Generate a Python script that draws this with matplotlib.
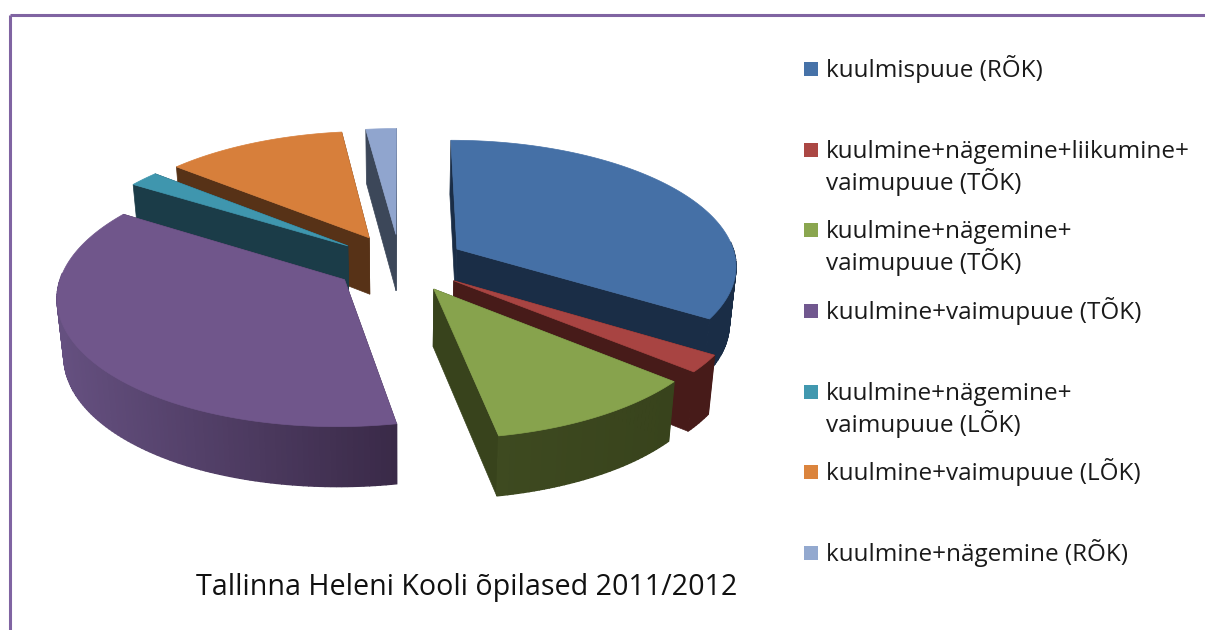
import matplotlib
matplotlib.use("Agg")
import matplotlib.pyplot as plt
import matplotlib.colors as mcolors
from matplotlib.patches import Rectangle
import numpy as np

labels = ["kuulmispuue (RÕK)",
          "kuulmine+nägemine+liikumine+\nvaimupuue (TÕK)",
          "kuulmine+nägemine+\nvaimupuue (TÕK)",
          "kuulmine+vaimupuue (TÕK)",
          "kuulmine+nägemine+\nvaimupuue (LÕK)",
          "kuulmine+vaimupuue (LÕK)",
          "kuulmine+nägemine (RÕK)"]
values = [34.0, 2.2, 10.8, 37.0, 2.0, 11.9, 2.0]
title = "Tallinna Heleni Kooli õpilased 2011/2012"

top_colors = ["#4570A6", "#A84442", "#87A34D", "#70568B", "#3F96AE", "#D77F3B", "#90A5CE"]
wall_colors = ["#1A2D46", "#471B19", "#38431C", "#3A2A48", "#1B3C48", "#573217", "#3C4759"]
rim_left = ["#1A2D46", "#471B19", "#3E4A20", "#655080", "#1B3C48", "#573217", "#3C4759"]
legend_colors = ["#4672A8", "#AB4744", "#8AA64F", "#71588F", "#4198AF", "#DB843D", "#93A9CF"]
legend_y = [69, 150, 230, 311, 392, 472, 553]

CX, CY = 400, 263
R, RY, P = 280, 125, 0.12
EXPLODE = 0.235
H_BACK, H_FRONT = 54, 60
BOTTOM_SCALE = 0.98
LINE_STEP = 32


def project(u, v):
    d = 1 - P * v
    x = CX + R * u / d
    y = CY + RY * v / d
    h = H_BACK + (H_FRONT - H_BACK) * np.clip((v + 1) / 2, 0, 1)
    xb = CX + (x - CX) * BOTTOM_SCALE
    return x, y, xb, y + h


fig = plt.figure(figsize=(12.05, 6.3), dpi=100)
ax = fig.add_axes([0, 0, 1, 1])
ax.set_xlim(0, 1205)
ax.set_ylim(630, 0)
ax.axis("off")

# frame
ax.plot([9.5, 9.5], [630, 14.5], color="#8064A2", lw=2.2, solid_capstyle="butt")
ax.plot([9.5, 1205], [14.5, 14.5], color="#8064A2", lw=2.2, solid_capstyle="butt")

vals = np.array(values)
edges = np.concatenate([[0], np.cumsum(vals) / vals.sum() * 2 * np.pi])
mids = (edges[:-1] + edges[1:]) / 2

# back slices first
order = np.argsort(-np.cos(mids))
for i in order:
    a0, a1 = edges[i], edges[i + 1]
    eu, ev = EXPLODE * np.sin(mids[i]), -EXPLODE * np.cos(mids[i])
    angs = np.linspace(a0, a1, max(int(np.degrees(a1 - a0)) + 2, 3))
    us = eu + np.sin(angs)
    vs = ev - np.cos(angs)
    x, y, xb, yb = project(us, vs)
    ax_, ay_, axb, ayb = project(eu, ev)

    # cut faces
    for k in (0, -1):
        ax.fill([ax_, x[k], xb[k], axb], [ay_, y[k], yb[k], ayb],
                color=wall_colors[i], lw=0.5)

    # rim, only the part facing the viewer
    c_l = np.array(mcolors.to_rgb(rim_left[i]))
    c_r = np.array(mcolors.to_rgb(wall_colors[i]))
    for k in range(len(angs) - 1):
        if -np.cos((angs[k] + angs[k + 1]) / 2) < -0.05:
            continue
        t = np.clip((x[k] - x.min()) / max(x.max() - x.min(), 1), 0, 1)
        ax.fill([x[k], x[k + 1], xb[k + 1], xb[k]],
                [y[k], y[k + 1], yb[k + 1], yb[k]],
                color=c_l + (c_r - c_l) * t, lw=1.0)

    # top surface
    ax.fill(np.r_[ax_, x], np.r_[ay_, y], color=top_colors[i], lw=0.5)

# legend
for lab, col, ly in zip(labels, legend_colors, legend_y):
    ax.add_patch(Rectangle((804, ly - 7), 14, 14, color=col, lw=0))
    for j, line in enumerate(lab.split("\n")):
        ax.text(826, ly + 8 + LINE_STEP * j, line, family="Open Sans", fontsize=17.5,
                color="#1a1a1a", va="baseline", ha="left")

ax.text(467, 587, title, family="Open Sans", fontsize=20.6, color="#111111",
        ha="center", va="center")

fig.savefig("out.png", dpi=100)
